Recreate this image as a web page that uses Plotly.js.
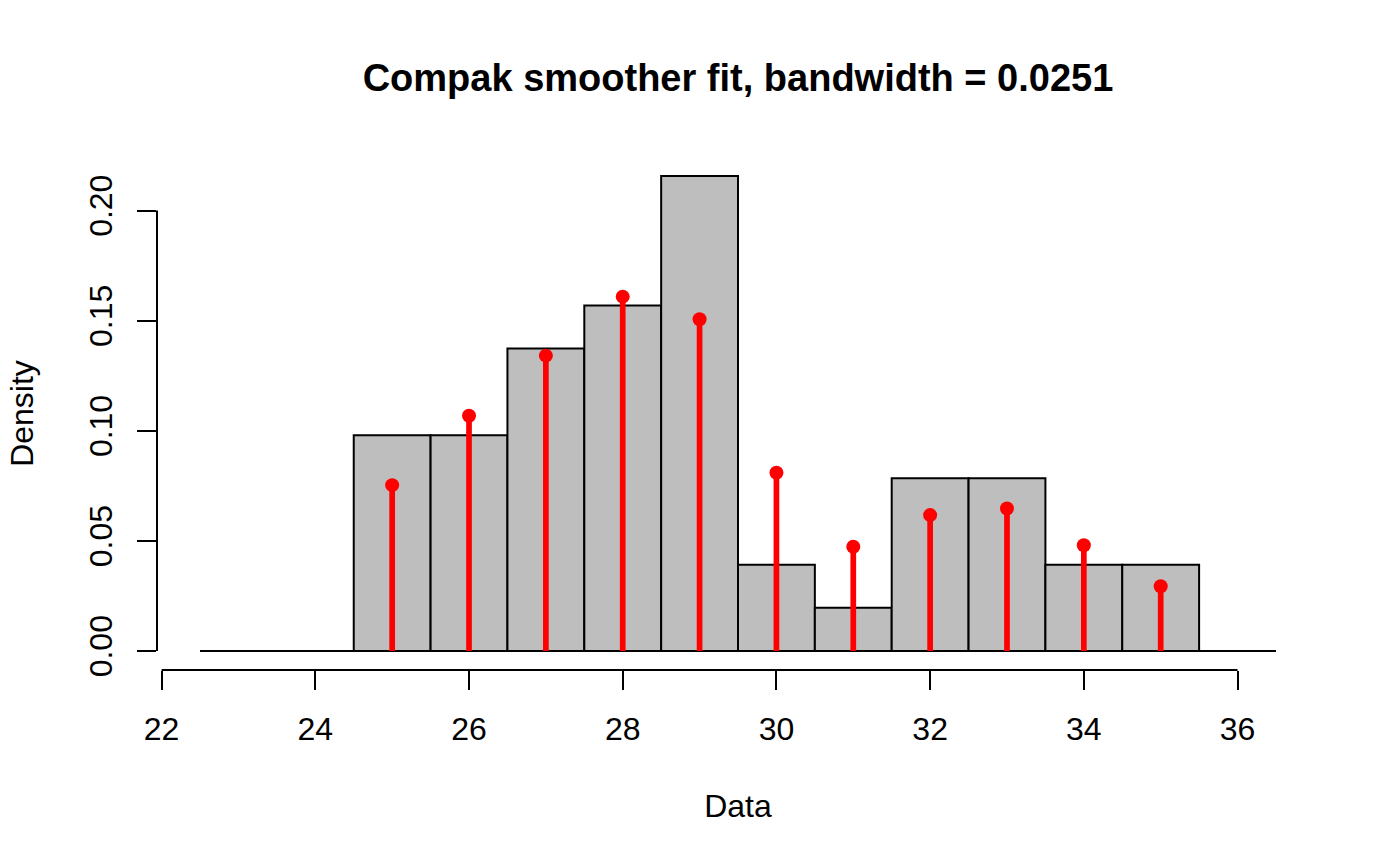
<!DOCTYPE html>
<html>
<head>
<meta charset="utf-8">
<script src="https://cdn.plot.ly/plotly-3.0.1.min.js"></script>
<style>html,body{margin:0;padding:0;background:#fff;}#chart{width:1400px;height:866px;}</style>
</head>
<body>
<div id="chart"></div>
<script>
// Histogram bins (centres, width 1) and densities
const binMids = [23, 24, 25, 26, 27, 28, 29, 30, 31, 32, 33, 34, 35, 36];
const binDensity = [0, 0, 0.0980, 0.0980, 0.1373, 0.1569, 0.2157, 0.0392, 0.0196, 0.0784, 0.0784, 0.0392, 0.0392, 0];
// Fitted probabilities (red spikes)
const fitX = [25, 26, 27, 28, 29, 30, 31, 32, 33, 34, 35];
const fitY = [0.0753, 0.1068, 0.1341, 0.1609, 0.1506, 0.0809, 0.0473, 0.0617, 0.0647, 0.0480, 0.0294];
// Axis ticks
const xTicks = [22, 24, 26, 28, 30, 32, 34, 36];
const yTicks = [0, 0.05, 0.10, 0.15, 0.20];
const yTickText = ["0.00", "0.05", "0.10", "0.15", "0.20"];

const FONT = "Liberation Sans, Arial, Helvetica, sans-serif";
const binWidth = 1;
const xRange = [21.94, 37.06];
const yRange = [-0.00863, 0.2243];

// baseline for the histogram (covers zero-height bins)
const baseX = [binMids[0] - binWidth / 2, binMids[binMids.length - 1] + binWidth / 2];
const baseY = [0, 0];

// spikes
const spikeX = [], spikeY = [];
fitX.forEach((x, i) => { spikeX.push(x, x, null); spikeY.push(0, fitY[i], null); });

const traces = [
  {type: 'scatter', mode: 'lines', x: baseX, y: baseY, line: {color: '#000', width: 2}, hoverinfo: 'skip', showlegend: false},
  {type: 'bar', x: binMids, y: binDensity, width: binWidth,
   marker: {color: '#BEBEBE', line: {color: '#000', width: 2}}, showlegend: false},
  {type: 'scatter', mode: 'lines', x: spikeX, y: spikeY, line: {color: '#FF0000', width: 5.7}, showlegend: false, hoverinfo: 'skip'},
  {type: 'scatter', mode: 'markers', x: fitX, y: fitY, marker: {color: '#FF0000', size: 14, line: {width: 0}}, showlegend: false, cliponaxis: false}
];

const xFrac = v => (v - xRange[0]) / (xRange[1] - xRange[0]);
const yFrac = v => (v - yRange[0]) / (yRange[1] - yRange[0]);

const layout = {
  width: 1400, height: 866,
  margin: {l: 157, r: 81, t: 157, b: 196, pad: 0},
  paper_bgcolor: '#fff', plot_bgcolor: '#fff',
  font: {family: FONT, size: 32, color: '#000'},
  showlegend: false,
  bargap: 0,
  title: {text: '<b>Compak smoother fit, bandwidth = 0.0251</b>', font: {family: FONT, size: 38, color: '#000'},
          x: 0.5 + (157 - 81) / 2 / 1400, xanchor: 'center', y: 1 - 78 / 866, yref: 'container', yanchor: 'middle'},
  xaxis: {range: xRange, autorange: false, showgrid: false, zeroline: false, showline: false,
          tickmode: 'array', tickvals: xTicks, ticktext: xTicks.map(String),
          ticks: 'outside', ticklen: 19, tickwidth: 2, tickcolor: '#000',
          tickfont: {family: FONT, size: 32, color: '#000'}, ticklabelstandoff: 12,
          title: {text: 'Data', font: {family: FONT, size: 32, color: '#000'}, standoff: 48},
          automargin: false, fixedrange: true},
  yaxis: {range: yRange, autorange: false, showgrid: false, zeroline: false, showline: false,
          tickmode: 'array', tickvals: yTicks, ticktext: yTickText, tickangle: -90,
          ticks: 'outside', ticklen: 19, tickwidth: 2, tickcolor: '#000',
          tickfont: {family: FONT, size: 32, color: '#000'}, ticklabelstandoff: 12,
          title: {text: 'Density', font: {family: FONT, size: 32, color: '#000'}, standoff: 40},
          automargin: false, fixedrange: true},
  shapes: [
    {type: 'line', xref: 'paper', yref: 'paper', x0: xFrac(xTicks[0]), x1: xFrac(xTicks[xTicks.length - 1]), y0: 0, y1: 0,
     line: {color: '#000', width: 2}, layer: 'above'},
    {type: 'line', xref: 'paper', yref: 'paper', x0: 0, x1: 0, y0: yFrac(yTicks[0]), y1: yFrac(yTicks[yTicks.length - 1]),
     line: {color: '#000', width: 2}, layer: 'above'}
  ],
  hovermode: false
};

Plotly.newPlot('chart', traces, layout, {displayModeBar: false, staticPlot: true});
</script>
</body>
</html>
